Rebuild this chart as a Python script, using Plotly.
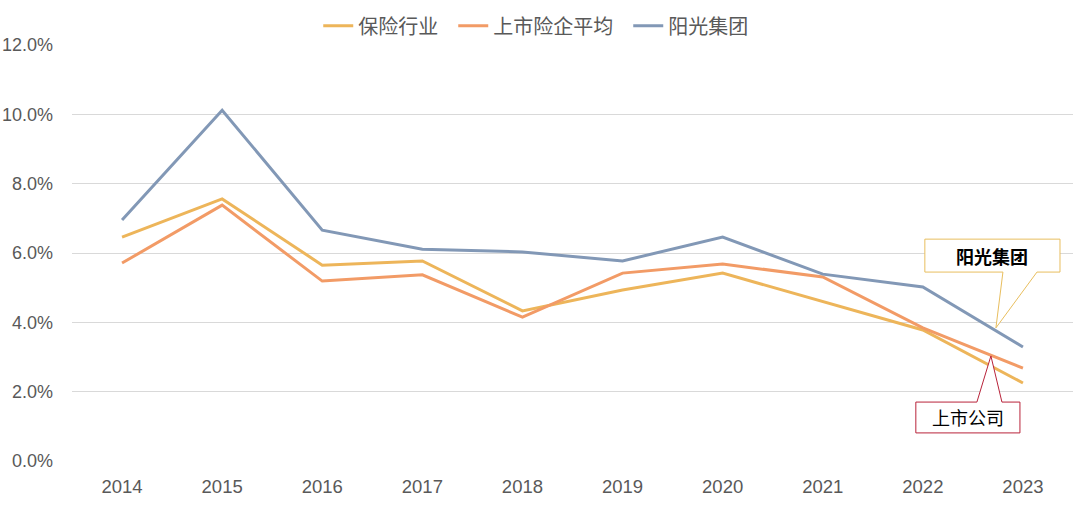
import plotly.graph_objects as go

years = ["2014", "2015", "2016", "2017", "2018", "2019", "2020", "2021", "2022", "2023"]
industry = [6.46, 7.56, 5.65, 5.77, 4.33, 4.93, 5.42, 4.60, 3.78, 2.25]
listed_avg = [5.71, 7.38, 5.19, 5.37, 4.15, 5.42, 5.68, 5.31, 3.84, 2.68]
sunshine = [6.95, 10.12, 6.66, 6.11, 6.03, 5.77, 6.46, 5.39, 5.02, 3.29]
series_names = ["保险行业", "上市险企平均", "阳光集团"]
colors = ["#EDB55A", "#F29B66", "#8298B6"]
y_ticks = [0, 2, 4, 6, 8, 10, 12]
y_ticktext = [f"{v:.1f}%" for v in y_ticks]

font_family = "Liberation Sans, Arial, Noto Sans CJK SC, sans-serif"

fig = go.Figure()
for name, vals, c in zip(series_names, [industry, listed_avg, sunshine], colors):
    fig.add_trace(go.Scatter(x=years, y=vals, name=name + "\u2002", mode="lines",
                             line=dict(color=c, width=3)))

# 阳光集团 callout (pointer from bottom edge)
bx0, bx1, by0, by1 = 8.02, 9.37, 6.40, 5.45
p1, p2, apx, apy = 8.80, 9.14, 8.73, 3.84
path1 = (f"M {bx0},{by0} L {bx1},{by0} L {bx1},{by1} L {p2},{by1} "
         f"L {apx},{apy} L {p1},{by1} L {bx0},{by1} Z")
fig.add_shape(type="path", path=path1, xref="x", yref="y",
              line=dict(color="#E8BE5E", width=1), fillcolor="white", layer="above")
fig.add_annotation(x=(bx0 + bx1) / 2, y=(by0 + by1) / 2, xref="x", yref="y",
                   text="<b>阳光集团</b>", showarrow=False,
                   font=dict(size=18, color="#000000", family="Noto Sans CJK SC"))

# 上市公司 callout (pointer from top edge)
cx0, cx1, cy0, cy1 = 7.93, 8.97, 1.70, 0.81
q1, q2, qx, qy = 8.54, 8.79, 8.68, 3.03
path2 = (f"M {cx0},{cy0} L {q1},{cy0} L {qx},{qy} L {q2},{cy0} L {cx1},{cy0} "
         f"L {cx1},{cy1} L {cx0},{cy1} Z")
fig.add_shape(type="path", path=path2, xref="x", yref="y",
              line=dict(color="#B8233A", width=1), fillcolor="white", layer="above")
fig.add_annotation(x=(cx0 + cx1) / 2, y=(cy0 + cy1) / 2, xref="x", yref="y",
                   text="上市公司", showarrow=False,
                   font=dict(size=18, color="#000000", family="Noto Sans CJK SC"))

fig.update_layout(
    width=1080, height=515,
    margin=dict(l=72, r=7, t=45, b=54, autoexpand=False),
    paper_bgcolor="white", plot_bgcolor="white",
    font=dict(family=font_family, color="#595959", size=18),
    showlegend=True,
    legend=dict(orientation="h", x=0.246, xanchor="left", y=1.046, yanchor="middle",
                font=dict(size=20, color="#595959", family="Noto Sans CJK SC"),
                itemwidth=30, tracegroupgap=0),
    xaxis=dict(type="category", showgrid=False, zeroline=False, showline=False,
               ticks="", tickfont=dict(size=18.5, color="#595959"),
               ticklabelstandoff=12,
               range=[-0.5, len(years) - 0.5]),
    yaxis=dict(range=[0, 12], tickvals=y_ticks, ticktext=y_ticktext,
               showgrid=True, gridcolor="#D9D9D9", gridwidth=1, zeroline=False,
               showline=False, ticks="", tickfont=dict(size=18, color="#595959"),
               ticklabelstandoff=18),
)

fig.write_html("out.html", config={"displayModeBar": False},
               post_script="document.body.style.margin='0';document.body.style.overflow='hidden';")
